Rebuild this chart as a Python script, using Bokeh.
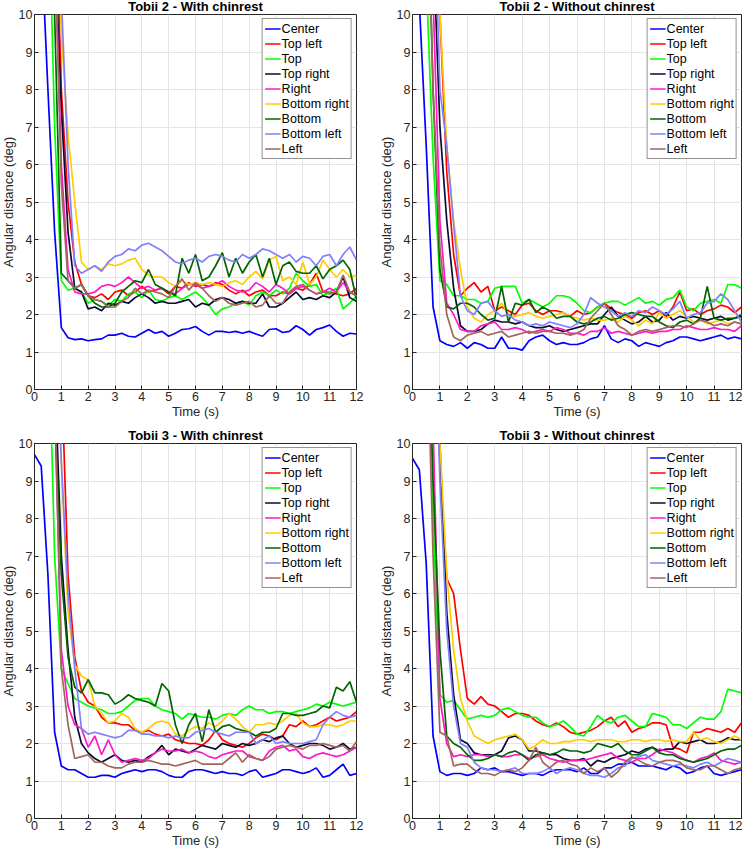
from bokeh.plotting import figure
from bokeh.models import SingleIntervalTicker, Range1d
from bokeh.layouts import column, row
from bokeh.embed import file_html
from bokeh.resources import INLINE

# sample times (s), one value every 0.25 s
TIME = [i * 0.25 for i in range(49)]

SERIES = ["Center", "Top left", "Top", "Top right", "Right",
          "Bottom right", "Bottom", "Bottom left", "Left"]
COLORS = ["#0000ff", "#ff0000", "#00ff00", "#0a0a33", "#ff17c8",
          "#ffcc00", "#006400", "#8080ff", "#a0665a"]

TITLES = ["Tobii 2 - With chinrest", "Tobii 2 - Without chinrest",
          "Tobii 3 - With chinrest", "Tobii 3 - Without chinrest"]

# ---------------- Tobii 2 - With chinrest ----------------
t2c_center = [15, 12,8,4.2,1.65, 1.38,1.33,1.35,1.3, 1.33,1.35,1.45,1.45, 1.5,1.42,1.4,1.5, 1.6,1.5,1.55,1.42, 1.5,1.6,1.62,1.68, 1.55,1.45,1.55,1.55, 1.52,1.55,1.5,1.55, 1.48,1.42,1.6,1.62, 1.52,1.55,1.7,1.6, 1.45,1.6,1.65,1.72, 1.55,1.42,1.5,1.48]
t2c_topleft = [20, 20,18,14,8, 5,3.4,2.8,2.5, 2.45,2.55,2.4,2.6, 2.65,2.5,2.6,2.75, 2.6,2.65,2.7,2.55, 2.75,2.7,2.85,2.75, 2.8,2.75,2.85,2.8, 2.65,2.55,2.65,2.5, 2.6,2.65,2.5,2.5, 2.6,2.55,2.7,2.65, 2.8,3.1,2.6,2.6, 2.55,2.5,2.55,2.7]
t2c_top = [20, 18,14,7,2.9, 2.65,2.7,2.6,2.3, 2.4,2.35,2.25,2.4, 2.35,2.55,2.6,2.45, 2.65,2.4,2.35,2.45, 2.5,2.4,2.5,2.6, 2.45,2.25,2.0,2.15, 2.2,2.3,2.35,2.25, 2.5,2.6,2.5,2.65, 2.55,2.7,3.1,2.9, 2.75,2.8,2.5,2.6, 2.7,2.15,2.3,2.5]
t2c_topright = [20, 20,16,12,7.5, 4.2,2.7,2.6,2.15, 2.2,2.1,2.3,2.25, 2.35,2.3,2.45,2.55, 2.45,2.3,2.35,2.3, 2.3,2.35,2.4,2.2, 2.3,2.25,2.4,2.45, 2.4,2.3,2.35,2.3, 2.3,2.55,2.2,2.2, 2.3,2.45,2.6,2.4, 2.45,2.4,2.5,2.45, 2.6,3.0,2.45,2.35]
t2c_right = [20, 20,16,12,6, 3.2,2.6,2.55,2.55, 2.6,2.75,2.8,2.75, 2.85,3.0,2.85,2.7, 2.75,2.65,2.7,2.6, 2.55,2.7,2.8,2.8, 2.7,2.75,2.8,2.9, 2.75,2.65,2.6,2.65, 2.85,2.75,2.6,2.8, 2.7,2.55,2.7,2.75, 2.65,2.55,2.6,2.7, 2.6,2.85,2.6,2.5]
t2c_bottomright = [20, 20,18,14,9.5, 6.8,5.0,3.4,3.2, 3.3,3.2,3.35,3.3, 3.35,3.45,3.5,3.2, 3.05,3.0,3.0,2.85, 2.75,2.9,2.8,2.85, 2.8,2.85,2.8,2.75, 2.85,2.9,2.8,3.0, 3.15,2.95,3.45,3.55, 2.9,3.0,2.8,3.4, 2.8,3.0,3.45,3.2, 3.0,3.2,3.0,3.05]
t2c_bottom = [20, 20,15,10,3.1, 2.9,2.7,2.8,2.5, 2.3,2.2,2.2,2.3, 2.6,2.75,2.9,2.85, 3.2,2.8,2.7,2.6, 2.5,3.5,3.1,3.6, 2.9,3.0,3.3,3.65, 3.0,3.5,3.1,3.4, 3.6,3.0,3.5,2.8, 3.3,3.4,3.15,3.1, 3.1,3.3,2.95,3.2, 3.3,3.45,3.2,2.4]
t2c_bottomleft = [20, 20,20,15,10.5, 6,3.3,3.1,3.2, 3.3,3.15,3.4,3.55, 3.6,3.75,3.7,3.85, 3.9,3.8,3.7,3.55, 3.4,3.35,3.45,3.5, 3.4,3.55,3.6,3.55, 3.45,3.4,3.6,3.5, 3.6,3.75,3.7,3.6, 3.5,3.6,3.4,3.55, 3.5,3.3,3.55,3.6, 3.3,3.6,3.8,3.45]
t2c_left = [20, 20,16,12,5.5, 2.9,2.7,2.8,2.5, 2.4,2.35,2.2,2.2, 2.35,2.45,2.7,2.55, 2.65,2.6,2.55,2.45, 2.75,2.95,2.65,2.85, 2.7,2.5,2.35,2.45, 2.3,2.25,2.3,2.35, 2.2,2.25,2.5,2.3, 2.3,2.6,2.75,2.8, 2.65,2.55,2.6,2.55, 2.6,3.05,2.6,2.5]

# ---------------- Tobii 2 - Without chinrest ----------------
t2n_center = [14, 10.3,6.5,2.2,1.3, 1.2,1.15,1.25,1.1, 1.25,1.2,1.1,1.1, 1.4,1.1,1.1,1.05, 1.3,1.4,1.45,1.3, 1.2,1.25,1.2,1.2, 1.25,1.35,1.4,1.7, 1.35,1.25,1.35,1.3, 1.15,1.25,1.2,1.15, 1.25,1.3,1.4,1.4, 1.35,1.3,1.35,1.4, 1.45,1.35,1.4,1.35]
t2n_topleft = [20, 20,20,16,10, 5.8,3.6,2.5,2.7, 2.85,2.6,2.75,2.1, 2.2,2.1,2.0,2.25, 2.3,2.1,2.0,2.1, 2.1,2.05,1.95,2.1, 2.0,2.05,2.2,2.3, 2.15,2.05,2.0,1.9, 2.05,2.1,2.0,2.1, 1.95,2.2,2.6,2.1, 2.15,2.0,2.1,2.15, 2.25,2.2,2.05,2.2]
t2n_top = [20, 16,11,6.2,2.9, 2.8,2.5,2.5,2.4, 2.4,2.3,2.35,2.7, 2.75,2.75,2.75,2.3, 2.4,2.3,2.2,2.3, 2.5,2.5,2.45,2.3, 2.1,2.05,2.2,2.3, 2.35,2.35,2.25,2.35, 2.45,2.3,2.35,2.25, 2.4,2.45,2.65,2.2, 2.1,2.3,2.35,2.4, 2.3,2.8,2.8,2.7]
t2n_topright = [20, 20,16,12,7, 4.5,2.7,1.7,1.55, 1.55,1.6,1.75,1.85, 1.8,1.8,1.75,1.8, 1.7,1.65,1.65,1.7, 1.6,1.55,1.6,1.65, 1.7,1.75,1.75,2.0, 2.2,1.95,1.85,1.75, 1.8,1.95,1.8,1.85, 2.05,1.85,1.95,1.9, 1.95,1.9,1.85,1.9, 1.95,1.85,1.9,1.95]
t2n_right = [20, 18,14,10.5,4.5, 2.3,2.0,1.6,1.55, 1.55,1.7,1.75,1.8, 1.6,1.6,1.65,1.6, 1.5,1.55,1.6,1.55, 1.65,1.6,1.5,1.5, 1.45,1.55,1.55,1.65, 1.5,1.55,1.5,1.45, 1.5,1.55,1.5,1.55, 1.55,1.6,1.6,1.7, 1.65,1.6,1.6,1.65, 1.6,1.6,1.55,1.7]
t2n_bottomright = [20, 20,20,16,10, 6.5,4.5,3.2,2.2, 1.9,1.8,2.0,2.1, 2.3,2.0,1.95,2.0, 2.05,1.95,1.9,1.95, 2.0,2.05,1.95,1.9, 1.85,1.9,1.85,1.85, 1.9,1.8,1.95,1.85, 1.7,1.85,1.75,2.05, 1.9,2.0,2.1,1.95, 1.8,1.85,1.75,1.8, 1.85,1.75,1.8,1.75]
t2n_bottom = [20, 20,15,8,3.2, 2.2,2.15,2.3,2.3, 2.2,2.0,1.85,1.9, 2.75,1.8,2.3,2.25, 2.4,2.05,2.2,2.1, 1.9,1.95,1.95,1.8, 1.75,1.8,1.9,1.95, 1.85,1.9,2.0,2.05, 2.0,1.95,1.95,1.8, 1.7,1.65,1.8,1.85, 1.75,1.9,2.75,1.9, 1.85,1.9,1.9,2.0]
t2n_bottomleft = [20, 20,18,14,8, 6.5,4.4,2.5,2.1, 2.0,2.3,2.35,2.1, 1.95,2.0,1.85,1.8, 1.7,1.75,1.7,1.8, 1.75,1.7,1.65,1.75, 2.0,2.45,2.3,2.2, 2.1,1.95,2.05,1.95, 2.1,2.05,2.2,2.1, 2.0,2.15,2.35,1.9, 2.0,2.05,2.3,2.35, 2.55,2.4,2.1,1.8]
t2n_left = [20, 20,15,8,3.8, 2.0,1.4,1.3,1.45, 1.5,1.55,1.45,1.5, 1.55,1.4,1.45,1.5, 1.55,1.5,1.55,1.55, 1.5,1.5,1.45,1.5, 1.6,1.9,2.1,2.3, 2.0,1.7,1.6,1.45, 1.55,1.6,1.55,1.6, 1.65,1.7,1.7,1.65, 1.75,1.85,1.8,1.7, 1.75,1.7,1.8,1.75]

# ---------------- Tobii 3 - With chinrest ----------------
t3c_center = [9.7, 9.4,6.5,2.3,1.4, 1.3,1.3,1.2,1.1, 1.1,1.15,1.15,1.1, 1.2,1.25,1.3,1.25, 1.3,1.3,1.25,1.15, 1.1,1.1,1.25,1.3, 1.3,1.25,1.2,1.25, 1.2,1.2,1.15,1.25, 1.3,1.1,1.15,1.2, 1.3,1.3,1.25,1.2, 1.25,1.35,1.1,1.15, 1.3,1.45,1.15,1.2]
t3c_topleft = [20, 20,20,18,12, 6.5,4.3,3.4,3.1, 3.0,2.7,2.55,2.55, 2.5,2.5,2.35,2.3, 2.35,2.25,2.2,2.25, 2.1,2.05,2.0,2.0, 1.95,2.1,2.35,2.1, 2.0,1.95,1.9,2.0, 2.15,2.25,2.2,2.1, 2.2,2.5,2.45,2.6, 2.45,2.5,2.6,2.7, 2.6,2.65,2.7,2.85]
t3c_top = [20, 20,14,7,4.0, 3.6,3.2,3.1,3.0, 2.95,2.9,2.8,2.8, 2.85,3.0,3.15,3.2, 3.2,3.0,2.9,2.85, 2.8,2.65,2.8,2.75, 2.7,2.7,2.65,2.75, 2.8,2.75,2.9,3.0, 2.9,2.9,2.8,2.85, 2.85,2.8,2.85,2.9, 2.95,3.05,3.0,3.1, 3.05,3.0,3.05,3.1]
t3c_topright = [20, 20,17,12,7, 4.5,2.7,2.0,1.75, 1.6,1.5,1.6,1.7, 1.55,1.5,1.55,1.5, 1.65,1.75,1.95,1.7, 1.85,1.8,1.75,1.85, 1.95,1.9,1.85,2.0, 1.95,1.9,2.0,1.95, 2.0,2.1,2.05,2.15, 2.2,2.0,1.9,1.95, 2.0,2.0,1.95,1.85, 1.9,2.0,1.85,1.9]
t3c_right = [20, 20,16,11,4.5, 3.0,2.5,2.4,1.9, 2.2,1.7,2.1,1.7, 1.5,1.55,1.6,1.55, 1.6,1.75,1.85,1.8, 1.8,1.85,1.75,1.8, 1.75,1.65,1.6,1.7, 1.75,1.8,1.8,1.65, 1.6,1.55,1.8,1.9, 1.95,1.8,1.85,1.65, 1.6,1.7,1.75,1.7, 1.65,1.7,1.8,1.9]
t3c_bottomright = [20, 20,18,14,9.5, 5.5,4.1,3.8,3.7, 3.0,2.8,2.55,2.6, 2.8,2.7,2.4,2.3, 2.4,2.55,2.6,2.55, 2.25,2.2,2.35,2.45, 2.4,2.55,2.45,2.6, 2.8,2.65,2.45,2.3, 2.5,2.5,2.55,2.5, 2.6,2.75,2.8,2.55, 2.45,2.45,2.5,2.5, 2.45,2.5,2.6,2.6]
t3c_bottom = [20, 20,16,11,6.5, 4.3,3.5,3.35,3.7, 3.35,3.35,3.3,3.05, 3.15,3.3,3.2,3.15, 3.1,3.0,3.6,3.4, 2.5,2.0,2.5,2.8, 2.05,2.9,2.3,2.45, 2.5,2.4,2.35,2.3, 2.2,2.3,2.3,2.4, 2.8,2.8,2.75,2.75, 2.8,2.85,3.0,2.95, 3.5,3.4,3.65,3.1]
t3c_bottomleft = [20, 20,18,14,9.5, 6,4.0,2.4,2.25, 2.3,2.25,2.2,2.15, 2.2,2.35,2.35,2.25, 2.25,2.2,2.2,2.15, 2.2,2.15,2.15,2.3, 2.35,2.4,2.3,2.25, 2.2,2.3,2.3,2.3, 2.0,2.1,2.2,2.0, 2.05,2.0,2.0,2.0, 2.05,2.1,2.5,2.7, 2.85,2.75,2.7,2.75]
t3c_left = [20, 20,16,11.5,4, 2.5,1.6,1.65,1.7, 1.5,1.5,1.4,1.35, 1.35,1.45,1.5,1.5, 1.55,1.5,1.45,1.45, 1.4,1.45,1.5,1.55, 1.45,1.45,1.45,1.45, 1.6,1.75,1.5,1.7, 1.6,1.55,1.65,1.85, 1.9,1.95,1.9,1.85, 1.95,1.95,2.0,1.95, 1.9,1.95,1.8,2.05]

# ---------------- Tobii 3 - Without chinrest ----------------
t3n_center = [9.6, 9.3,6.8,2.2,1.25, 1.15,1.2,1.2,1.15, 1.2,1.35,1.3,1.35, 1.25,1.25,1.2,1.15, 1.2,1.2,1.15,1.25, 1.3,1.3,1.3,1.25, 1.35,1.2,1.2,1.35, 1.35,1.45,1.45,1.5, 1.4,1.4,1.4,1.35, 1.3,1.4,1.35,1.2, 1.25,1.35,1.4,1.2, 1.15,1.2,1.25,1.3]
t3n_topleft = [20, 20,20,16,9.5, 6.4,6.0,4.5,3.2, 3.05,3.25,3.05,3.0, 2.85,2.7,2.8,2.8, 2.75,2.6,2.5,2.45, 2.55,2.45,2.3,2.25, 2.3,2.35,2.45,2.6, 2.7,2.45,2.6,2.3, 2.4,2.45,2.55,2.55, 2.5,1.9,1.85,1.75, 2.3,2.3,2.4,2.35, 2.3,2.4,2.3,2.55]
t3n_top = [20, 20,16,8,3.3, 3.1,3.15,2.9,2.65, 2.7,2.75,2.7,2.75, 2.9,2.95,2.85,2.75, 2.7,2.7,2.55,2.45, 2.5,2.6,2.45,2.25, 2.2,2.45,2.75,2.6, 2.55,2.7,2.75,2.6, 2.45,2.45,2.8,2.75, 2.7,2.5,2.5,2.4, 2.55,2.7,2.65,2.65, 2.85,3.45,3.4,3.35]
t3n_topright = [20, 20,20,16,10, 5.5,3.3,2.1,2.0, 1.75,1.7,1.7,1.7, 1.8,2.15,2.2,2.1, 1.8,1.8,1.75,1.7, 1.7,1.6,1.55,1.55, 1.6,1.4,1.55,1.5, 1.6,1.65,1.7,1.8, 1.75,1.85,1.9,1.8, 1.85,1.85,2.05,2.0, 2.05,2.1,2.0,2.0, 2.05,2.15,2.1,2.1]
t3n_right = [20, 20,16,10.5,3.2, 2.0,1.65,1.7,1.65, 1.7,1.7,1.65,1.7, 1.65,1.65,1.7,1.7, 1.6,1.65,1.7,1.6, 1.55,1.5,1.55,1.55, 1.55,1.6,1.65,1.7, 1.75,1.6,1.55,1.5, 1.6,1.6,1.7,1.85, 1.8,1.75,1.65,1.55, 1.5,1.6,1.65,1.75, 1.55,1.5,1.45,1.5]
t3n_bottomright = [20, 20,20,16,10, 6.5,4.5,3.2,2.6, 2.2,2.1,2.0,2.1, 2.15,2.2,2.25,2.1, 1.85,1.95,2.1,2.0, 2.0,2.05,2.05,2.1, 2.1,2.05,2.1,2.1, 2.1,2.05,2.05,2.1, 2.1,2.05,2.1,2.1, 2.05,2.1,2.05,2.05, 2.3,2.1,2.15,2.05, 2.0,2.1,2.2,2.1]
t3n_bottom = [20, 20,15,9,4.5, 2.2,2.0,1.9,1.7, 1.55,1.55,1.6,1.7, 1.65,1.75,1.8,1.7, 1.55,1.7,1.75,1.7, 1.75,1.85,1.8,1.8, 1.75,1.8,2.0,1.95, 1.9,2.0,1.8,1.7, 1.7,1.8,1.9,1.75, 1.7,1.7,1.6,1.55, 1.5,1.55,1.6,1.7, 1.8,1.85,1.85,1.95]
t3n_bottomleft = [20, 20,20,15,9, 5.0,3.0,2.0,1.9, 1.5,1.35,1.3,1.3, 1.25,1.3,1.35,1.2, 1.2,1.2,1.25,1.35, 1.2,1.3,1.35,1.3, 1.2,1.15,1.15,1.1, 1.2,1.35,1.4,1.6, 1.65,1.7,1.55,1.5, 1.45,1.4,1.45,1.4, 1.35,1.45,1.5,1.4, 1.5,1.6,1.55,1.5]
t3n_left = [20, 20,14,7,2.3, 2.2,1.4,1.45,1.45, 1.3,1.2,1.2,1.15, 1.25,1.3,1.25,1.35, 1.55,1.9,1.5,1.35, 1.5,1.55,1.45,1.4, 1.2,1.35,1.25,1.35, 1.1,1.25,1.5,1.65, 1.55,1.45,1.4,1.5, 1.55,1.55,1.5,1.35, 1.3,1.3,1.4,1.4, 1.3,1.2,1.3,1.35]

PANEL_DATA = [
    [t2c_center, t2c_topleft, t2c_top, t2c_topright, t2c_right, t2c_bottomright, t2c_bottom, t2c_bottomleft, t2c_left],
    [t2n_center, t2n_topleft, t2n_top, t2n_topright, t2n_right, t2n_bottomright, t2n_bottom, t2n_bottomleft, t2n_left],
    [t3c_center, t3c_topleft, t3c_top, t3c_topright, t3c_right, t3c_bottomright, t3c_bottom, t3c_bottomleft, t3c_left],
    [t3n_center, t3n_topleft, t3n_top, t3n_topright, t3n_right, t3n_bottomright, t3n_bottom, t3n_bottomleft, t3n_left],
]

FONT = "Liberation Sans"
INK = "#262626"


def style_axis(ax):
    ax.ticker = SingleIntervalTicker(interval=1)
    ax.major_tick_in = 4
    ax.major_tick_out = 0
    ax.minor_tick_in = 0
    ax.minor_tick_out = 0
    ax.axis_line_color = INK
    ax.major_tick_line_color = INK
    ax.major_label_text_font = FONT
    ax.major_label_text_color = INK
    ax.major_label_text_font_size = "12.5px"
    ax.major_label_standoff = 2
    ax.axis_label_text_font = FONT
    ax.axis_label_text_font_style = "normal"
    ax.axis_label_text_color = INK
    ax.axis_label_text_font_size = "13px"
    ax.axis_label_standoff = 0


def make_panel(idx, width, height, bl, br, bt, bb):
    p = figure(width=width, height=height, x_range=Range1d(0, 12), y_range=Range1d(0, 10),
               output_backend="svg", toolbar_location=None,
               min_border_left=bl, min_border_right=br, min_border_top=bt, min_border_bottom=bb,
               background_fill_color="white", border_fill_color="white")
    p.title.text = TITLES[idx]
    p.title.align = "center"
    p.title.text_font = FONT
    p.title.text_font_size = "13px"
    p.title.text_font_style = "bold"
    p.title.text_color = "black"
    p.title.standoff = 1
    p.outline_line_color = INK
    p.outline_line_width = 1

    style_axis(p.xaxis[0])
    style_axis(p.yaxis[0])
    p.xaxis.axis_label = "Time (s)"
    p.yaxis.axis_label = "Angular distance (deg)"

    p.xgrid.ticker = SingleIntervalTicker(interval=1)
    p.ygrid.ticker = SingleIntervalTicker(interval=1)
    p.grid.grid_line_color = "#e4e4e4"
    p.grid.grid_line_width = 1

    for name, color, vals in zip(SERIES, COLORS, PANEL_DATA[idx]):
        p.line(TIME, vals, line_color=color, line_width=1.7, legend_label=name)

    lg = p.legend[0]
    lg.location = "top_right"
    lg.margin = 4
    lg.padding = 2
    lg.spacing = 0
    lg.border_line_color = INK
    lg.border_line_width = 1
    lg.background_fill_color = "white"
    lg.background_fill_alpha = 1
    lg.label_text_font = FONT
    lg.label_text_font_size = "12.5px"
    lg.label_text_color = "black"
    lg.label_standoff = 1
    lg.label_height = 15
    lg.glyph_height = 15
    lg.glyph_width = 16
    return p


p1 = make_panel(0, 373, 429, 31, 14, 13, 36)
p2 = make_panel(1, 372, 429, 42, 1, 13, 36)
p3 = make_panel(2, 373, 425, 31, 14, 18, 30)
p4 = make_panel(3, 372, 425, 42, 1, 18, 30)

layout = column(row(p1, p2), row(p3, p4), margin=(-4, -8, -8, -3))

open("out.html", "w").write(file_html(layout, INLINE))
